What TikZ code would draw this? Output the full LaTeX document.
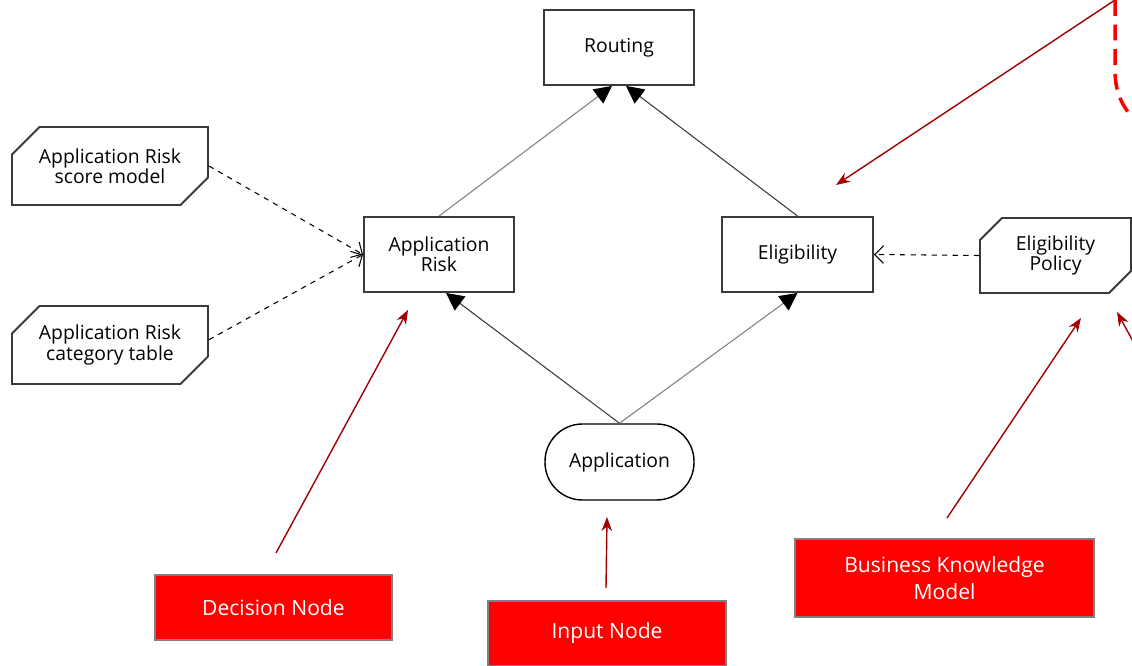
\documentclass[tikz,border=0pt]{standalone}
\usepackage{fontspec}
\setmainfont{Open Sans}
\usetikzlibrary{positioning,
        shapes,
        shapes.misc,
        arrows.meta}
\usepackage{xcolor}
\definecolor{boxline}{HTML}{3A3A3A}
\definecolor{notered}{HTML}{FF0000}
\definecolor{notearrow}{HTML}{A00000}

\begin{document}
\begin{tikzpicture}[
    decision/.style={rectangle,draw=boxline,line width=1.1pt,minimum width=3cm,minimum height=1.5cm,align=center,font=\fontsize{11}{11.5}\selectfont},
    knowledge/.style={chamfered rectangle,chamfered rectangle corners={north west,south east},draw=boxline,line width=1.1pt,align=center,inner sep=0pt,font=\fontsize{11}{11.5}\selectfont},
    inputdata/.style={rectangle,rounded corners=0.75cm,draw=black,line width=0.8pt,minimum width=2.98cm,minimum height=1.52cm,font=\fontsize{11}{12}\selectfont},
    note/.style={rectangle,fill=notered,draw=gray,line width=0.8pt,text=white,align=center,font=\fontsize{12}{15}\selectfont},
    info/.style={line width=0.6pt,-{Triangle[length=10pt,width=10pt,color=black]}},
    need/.style={dashed,line width=0.6pt,-{Straight Barb[length=5pt,width=10pt]}},
    pointer/.style={notearrow,line width=0.8pt,-{Stealth[length=8pt,width=6pt]}}]
            \clip (0,0) rectangle (22.64,-13.32);
            \fill [white] (0,0) rectangle (22.64,-13.32);

            \node [decision] (routing) at (12.38,-0.95) {Routing};
            \node [decision] (risk) at (8.78,-5.09) {Application\\Risk};
            \node [decision,minimum width=3.02cm] (elig) at (15.95,-5.09) {Eligibility};
            \node [inputdata] (app) at (12.39,-9.24) {Application};
            \node [knowledge,minimum width=3.92cm,minimum height=1.56cm,
                   chamfered rectangle xsep=0.3cm,chamfered rectangle ysep=0.25cm] (scoremodel) at (2.2,-3.32) {Application Risk\\score model};
            \node [knowledge,minimum width=3.92cm,minimum height=1.56cm,
                   chamfered rectangle xsep=0.3cm,chamfered rectangle ysep=0.25cm] (cattable) at (2.2,-6.9) {Application Risk\\category table};
            \node [knowledge,minimum width=3.02cm,minimum height=1.5cm,
                   chamfered rectangle xsep=0.22cm,chamfered rectangle ysep=0.22cm] (policy) at (21.11,-5.11) {Eligibility\\Policy};

            \node [note,minimum width=4.74cm,minimum height=1.3cm] (decnote) at (5.47,-12.15) {Decision Node};
            \node [note,minimum width=4.76cm,minimum height=1.3cm] (inpnote) at (12.14,-12.67) {Input Node};
            \node [note,minimum width=5.98cm,minimum height=1.56cm] (bkmnote) at (18.89,-11.56) {Business Knowledge\\Model};

            \draw [info,draw=gray] (risk.north) -- ([xshift=-4pt]routing.south);
            \draw [info,draw=boxline] (elig.north) -- ([xshift=4pt]routing.south);
            \draw [info,draw=boxline] (app.north) -- ([xshift=4pt]risk.south);
            \draw [info,draw=gray] (app.north) -- (elig.south);
            \draw [need] (scoremodel.east) -- (risk.west);
            \draw [need] ([yshift=3pt]cattable.east) -- (risk.west);
            \draw [need] (policy.west) -- (elig.east);

            \coordinate (decfrom) at (5.52,-11.06);
            \coordinate (decto) at (8.16,-6.2);
            \coordinate (inpfrom) at (12.12,-11.76);
            \coordinate (inpto) at (12.14,-10.34);
            \coordinate (bkmfrom) at (18.94,-10.36);
            \coordinate (bkmto) at (21.62,-6.36);
            \coordinate (edgefrom) at (22.7,-6.9);
            \coordinate (edgeto) at (22.34,-6.24);
            \coordinate (cornerfrom) at (22.3,0);
            \coordinate (cornerto) at (16.72,-3.7);
            \coordinate (curveend) at (22.7,-2.4);

            \draw [pointer] (decfrom) -- (decto);
            \draw [pointer] (inpfrom) -- (inpto);
            \draw [pointer] (bkmfrom) -- (bkmto);
            \draw [pointer] (edgefrom) -- (edgeto);
            \draw [pointer] (cornerfrom) -- (cornerto);
            \draw [notered,line width=2pt,dash pattern=on 9pt off 5pt]
                (cornerfrom) -- (22.3,-1.4) .. controls (22.3,-1.85) and (22.45,-2.15) .. (curveend);
        \end{tikzpicture}
\end{document}
